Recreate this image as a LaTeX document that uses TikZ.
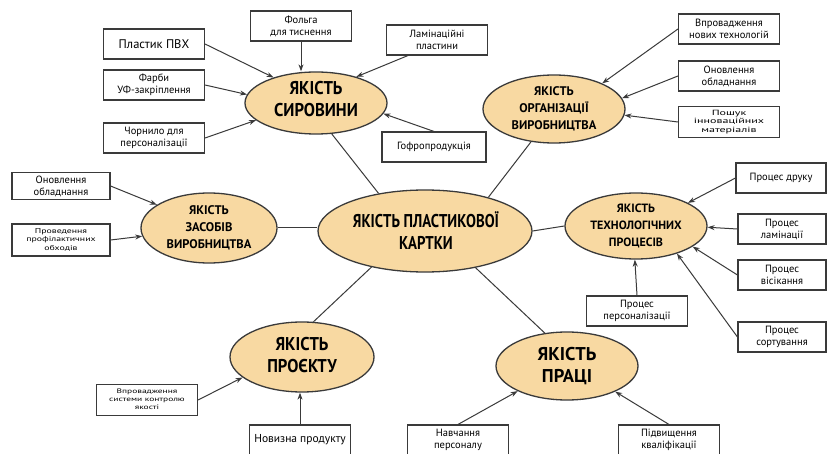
\documentclass[tikz,border=0pt]{standalone}
\usepackage{fontspec}
\usepackage{graphicx}
\setmainfont{PT Sans}
\usetikzlibrary{shapes.geometric,arrows.meta}
\definecolor{ellfill}{HTML}{F8D9A2}
\definecolor{edge}{HTML}{3A3A3A}
\newcommand{\hwide}[2]{\scalebox{#1}[1]{\begin{tabular}{@{}c@{}}#2\end{tabular}}}
\begin{document}
\begin{tikzpicture}[x=1pt,y=-1pt,
  ell/.style={ellipse,draw=edge,line width=1.3pt,fill=ellfill,inner sep=0pt},
  etext/.style={inner sep=0pt,align=center,font=\bfseries\fontsize{18.5}{22}\selectfont},
  etextsmall/.style={etext,font=\bfseries\fontsize{12.5}{17}\selectfont},
  box/.style={rectangle,draw=edge,line width=1.1pt,fill=white,inner sep=1pt,align=center,minimum width=101pt,minimum height=30pt,font=\fontsize{10.5}{12}\selectfont},
  arr/.style={draw=edge,line width=1pt,-{Stealth[length=7pt,width=5pt]}},
  lnk/.style={draw=edge,line width=1pt}]
\fill[white] (0,0) rectangle (835,454);
\useasboundingbox (0,0) rectangle (835,454);

% ellipses
\node[ell,minimum width=214pt,minimum height=82pt] (cen) at (425,231) {};
\node[etext] (cent) at (426,234) {\hwide{0.8}{ЯКІСТЬ ПЛАСТИКОВОЇ\\КАРТКИ}};
\node[ell,minimum width=142pt,minimum height=62pt] (syr) at (316,103) {};
\node[etext] (syrt) at (316,101) {\hwide{0.9}{ЯКІСТЬ\\СИРОВИНИ}};
\node[ell,minimum width=142pt,minimum height=68pt] (org) at (554,109) {};
\node[etextsmall] (orgt) at (org) {ЯКІСТЬ\\ОРГАНІЗАЦІЇ\\ВИРОБНИЦТВА};
\node[ell,minimum width=136pt,minimum height=70pt] (zas) at (209,228) {};
\node[etextsmall] (zast) at (zas) {ЯКІСТЬ\\ЗАСОБІВ\\ВИРОБНИЦТВА};
\node[ell,minimum width=142pt,minimum height=66pt] (tech) at (636,226) {};
\node[etextsmall,font=\bfseries\fontsize{12}{17}\selectfont] (techt) at (tech) {ЯКІСТЬ\\ТЕХНОЛОГІЧНИХ\\ПРОЦЕСІВ};
\node[ell,minimum width=144pt,minimum height=70pt] (proj) at (302,357) {};
\node[etext] (projt) at (proj) {\hwide{0.9}{ЯКІСТЬ\\ПРОЄКТУ}};
\node[ell,minimum width=142pt,minimum height=68pt] (prac) at (567,366) {};
\node[etext] (pract) at (prac) {ЯКІСТЬ\\ПРАЦІ};

% boxes
\node[box,font=\fontsize{12.5}{15}\selectfont] (pvh) at (154,44) {Пластик ПВХ};
\node[box] (fol) at (301,26) {Фольга\\для тиснення};
\node[box] (lam) at (437,40) {Ламінаційні\\пластини};
\node[box] (farb) at (154,85) {Фарби\\УФ-закріплення};
\node[box] (chor) at (154,138) {Чорнило для\\персоналізації};
\node[box,minimum width=104pt] (gof) at (434,147) {Гофропродукція};
\node[box] (vpr) at (729,29) {Впровадження\\нових технологій};
\node[box] (onr) at (729,76) {Оновлення\\обладнання};
\node[box,minimum height=31pt,font=\fontsize{7.5}{8.5}\selectfont] (posh) at (729,122) {\hwide{1.6}{Пошук\\інноваційних\\матеріалів}};
\node[box,minimum width=98pt,minimum height=27pt] (onl) at (61,186) {Оновлення\\обладнання};
\node[box,minimum width=98pt,minimum height=32pt,font=\fontsize{7}{8.5}\selectfont] (prov) at (61,240) {\hwide{1.4}{Проведення\\профілактичних\\обходів}};
\node[box,minimum width=90pt] (dru) at (781,178) {Процес друку};
\node[box,minimum width=88pt] (plam) at (782,229) {Процес\\ламінації};
\node[box,minimum width=88pt] (vis) at (782,275) {Процес\\вісікання};
\node[box,minimum width=88pt] (sort) at (782,337) {Процес\\сортування};
\node[box] (pers) at (637,311) {Процес\\персоналізації};
\node[box,minimum height=31pt,font=\fontsize{6.5}{8}\selectfont] (sys) at (147,400) {\hwide{1.45}{Впровадження\\системи контролю\\якості}};
\node[box,font=\fontsize{11.5}{14}\selectfont] (nov) at (300,440) {Новизна продукту};
\node[box] (nav) at (458,440) {Навчання\\персоналу};
\node[box] (pidv) at (669,440) {Підвищення\\кваліфікації};

% arrows
\draw[arr] (pvh.east) -- (syr.149);
\draw[arr] (fol.south) -- (fol.south |- syr.north);
\draw[arr] ([xshift=22pt]lam.south west) -- (syr.33);
\draw[arr] (farb.east) -- (syr.173);
\draw[arr] (chor.east) -- (syr.196);
\draw[arr] (gof.north) -- (syr.351);
\draw[arr] (vpr.west) -- (org.28);
\draw[arr] (onr.west) -- (org.9);
\draw[arr] (posh.west) -- (org.355);
\draw[arr] (onl.east) -- (zas.156);
\draw[arr] (prov.east) -- (zas.187);
\draw[arr] (dru.west) -- (tech.24);
\draw[arr] (plam.west) -- (tech.359);
\draw[arr] (vis.west) -- (tech.340);
\draw[arr] (sort.west) -- (tech.326);
\draw[arr] (pers.north) -- (tech.268);
\draw[arr] (sys.east) -- (proj.199);
\draw[arr] (nov.north) -- (nov.north |- proj.south);
\draw[arr] (nav.north) -- (prac.207);
\draw[arr] (pidv.north) -- (prac.332);

% links
\draw[lnk] (syr.297) -- (cen.141);
\draw[lnk] (org.235) -- (cen.28);
\draw[lnk] (zas.east) -- (zas.east -| cen.west);
\draw[lnk] (cen.east) -- (tech.west);
\draw[lnk] (cen.214) -- (proj.72);
\draw[lnk] (cen.324) -- (prac.124);
\end{tikzpicture}
\end{document}
